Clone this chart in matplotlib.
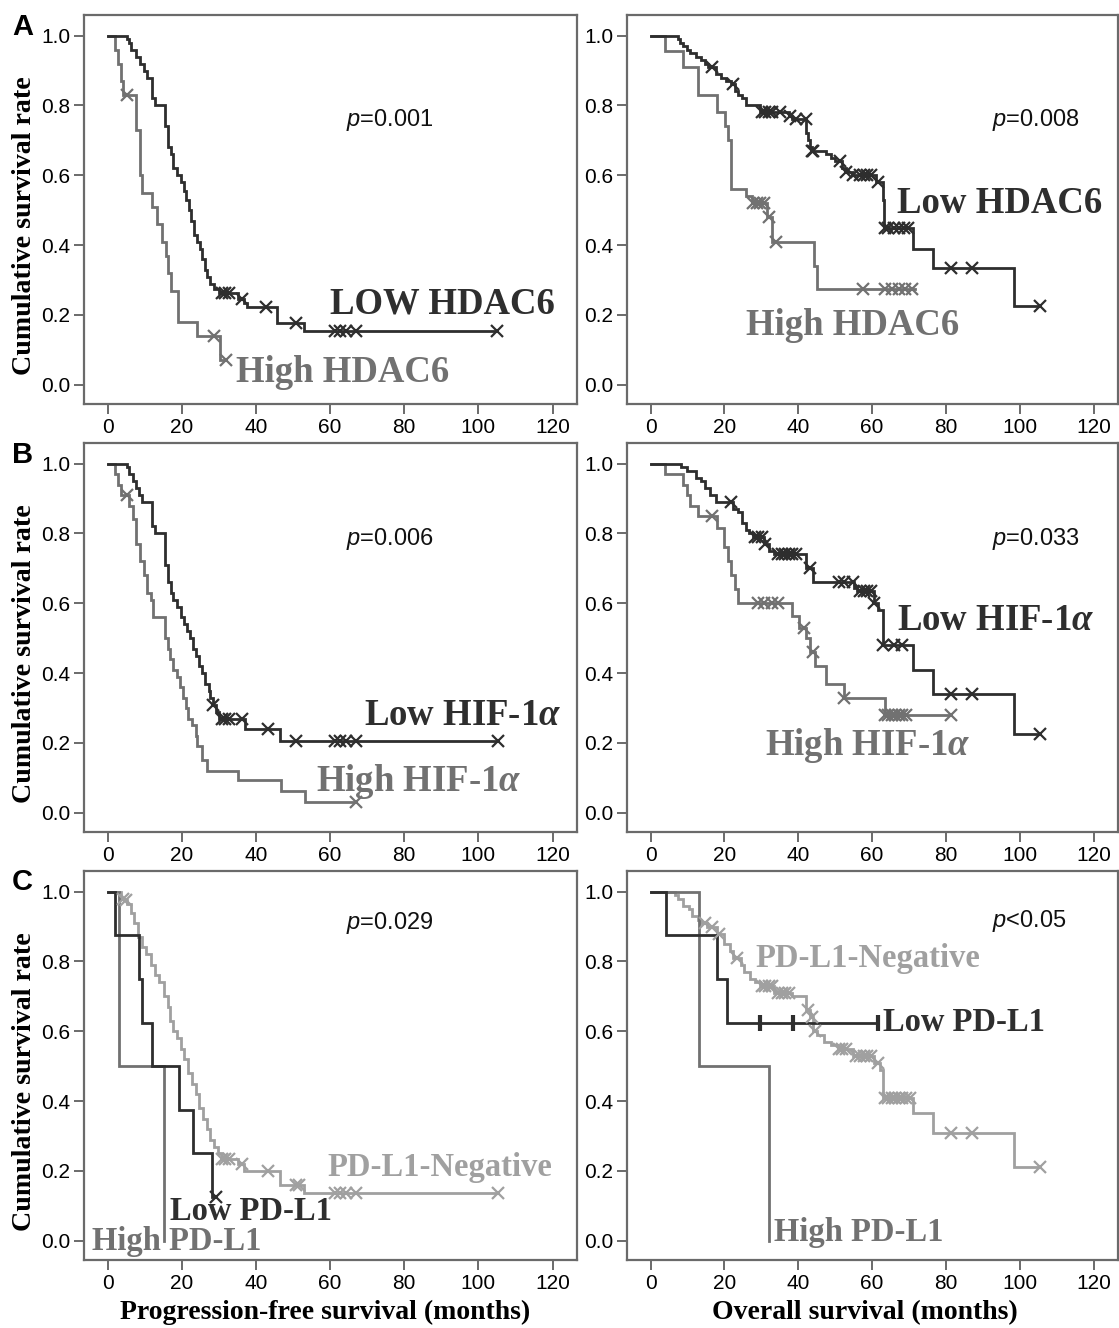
import numpy as np
import matplotlib
matplotlib.use("Agg")
import matplotlib.pyplot as plt

plt.rcParams["font.family"] = "Liberation Sans"
plt.rcParams["mathtext.fontset"] = "custom"
plt.rcParams["mathtext.it"] = "Liberation Sans:italic"
plt.rcParams["mathtext.rm"] = "Liberation Sans"
plt.rcParams["mathtext.bf"] = "Liberation Serif:italic:bold"

DARK = "#2e2e2e"
MID = "#717171"
LIGHT = "#a0a0a0"
FRAME = "#6a6a6a"

# ---- A: HDAC6, progression-free survival ----
A_PFS_LOW_T = [0, 5.2, 5.7, 6.4, 7.7, 8.7, 9.7, 10.7, 11.9, 12.7, 15.4, 16.2, 17.0, 17.7,
               18.7, 19.9, 20.5, 21.2, 21.9, 22.5, 23.4, 24.2, 25.0, 25.4, 26.2, 26.9,
               27.7, 28.7, 30.0, 35.2, 36.7, 37.7, 45.7, 53.0, 105.0]
A_PFS_LOW_S = [1.0, 0.99, 0.98, 0.96, 0.94, 0.92, 0.90, 0.88, 0.82, 0.80, 0.74, 0.68, 0.66,
               0.62, 0.60, 0.58, 0.555, 0.53, 0.50, 0.47, 0.43, 0.41, 0.39, 0.36, 0.33,
               0.31, 0.29, 0.275, 0.262, 0.245, 0.235, 0.222, 0.178, 0.153, 0.153]
A_PFS_LOW_C = [30.7, 31.7, 32.7, 36.2, 42.7, 50.7, 61.2, 62.7, 64.2, 66.9, 105.0]

A_PFS_HIGH_T = [0, 1.9, 2.7, 3.5, 4.2, 7.5, 8.7, 9.2, 11.9, 13.2, 14.7, 15.8, 16.2, 17.2,
                18.9, 24.2, 30.2, 31.9]
A_PFS_HIGH_S = [1.0, 0.96, 0.92, 0.87, 0.83, 0.73, 0.60, 0.55, 0.51, 0.46, 0.41, 0.37, 0.32,
                0.27, 0.18, 0.14, 0.07, 0.07]
A_PFS_HIGH_C = [5.2, 28.7, 31.9]

# ---- A: HDAC6, overall survival ----
A_OS_LOW_T = [0, 7.4, 7.9, 8.9, 9.8, 10.8, 12.3, 13.7, 14.7, 15.6, 17.6, 19.0, 20.5, 21.9,
              22.9, 23.8, 24.8, 25.8, 29.6, 37.4, 38.3, 42.2, 42.7, 43.1, 43.6, 47.5, 48.9,
              49.9, 51.8, 52.8, 54.7, 61.0, 62.9, 63.2, 71.1, 76.4, 98.5, 105.4]
A_OS_LOW_S = [1.0, 0.99, 0.98, 0.97, 0.96, 0.95, 0.94, 0.93, 0.92, 0.91, 0.89, 0.88, 0.87,
              0.86, 0.84, 0.83, 0.82, 0.80, 0.78, 0.77, 0.76, 0.72, 0.70, 0.68, 0.67, 0.66,
              0.65, 0.64, 0.62, 0.61, 0.60, 0.58, 0.53, 0.45, 0.39, 0.335, 0.225, 0.225]
A_OS_LOW_C = [16.6, 22.4, 30.1, 31.1, 32.0, 33.0, 35.0, 37.8, 39.3, 42.0, 43.6, 44.1, 51.4,
              52.8, 54.7, 56.7, 57.7, 58.6, 59.6, 61.5, 63.4, 64.4, 65.8, 67.2, 68.7, 69.7,
              81.3, 87.1, 105.4]

A_OS_HIGH_T = [0, 3.9, 8.9, 12.7, 18.0, 20.2, 21.0, 21.9, 25.8, 27.5, 31.4, 33.0, 44.3,
               45.0, 71.6]
A_OS_HIGH_S = [1.0, 0.955, 0.91, 0.83, 0.78, 0.74, 0.70, 0.56, 0.54, 0.52, 0.48, 0.41, 0.34,
               0.275, 0.275]
A_OS_HIGH_C = [27.7, 28.7, 29.6, 30.6, 32.0, 34.0, 57.6, 63.4, 65.3, 67.3, 69.0, 70.7]

# ---- B: HIF-1a, progression-free survival ----
B_PFS_LOW_T = [0, 5.2, 5.7, 6.7, 7.7, 8.5, 9.2, 11.9, 12.7, 15.4, 16.2, 17.2, 17.7, 18.7,
               19.7, 20.7, 21.5, 22.2, 23.0, 23.7, 24.7, 25.5, 26.2, 27.2, 27.7, 28.5,
               29.2, 30.0, 36.9, 46.4, 105.2]
B_PFS_LOW_S = [1.0, 0.99, 0.97, 0.95, 0.93, 0.91, 0.89, 0.82, 0.80, 0.71, 0.66, 0.63, 0.61,
               0.59, 0.56, 0.54, 0.52, 0.50, 0.47, 0.45, 0.42, 0.40, 0.37, 0.35, 0.33,
               0.31, 0.29, 0.27, 0.24, 0.205, 0.205]
B_PFS_LOW_C = [28.5, 30.7, 31.7, 32.7, 36.2, 43.2, 50.7, 61.2, 62.7, 64.2, 66.9, 105.2]

B_PFS_HIGH_T = [0, 2.0, 2.7, 3.7, 5.7, 6.7, 7.7, 8.7, 9.7, 10.7, 11.7, 12.2, 15.4, 16.2,
                16.9, 17.7, 18.7, 19.5, 20.2, 21.0, 21.7, 22.7, 23.7, 24.2, 25.5, 26.7,
                35.2, 46.7, 53.2, 66.9]
B_PFS_HIGH_S = [1.0, 0.97, 0.94, 0.91, 0.88, 0.84, 0.77, 0.72, 0.68, 0.63, 0.61, 0.56, 0.50,
                0.47, 0.44, 0.41, 0.39, 0.36, 0.33, 0.30, 0.27, 0.25, 0.22, 0.19, 0.15,
                0.12, 0.095, 0.063, 0.032, 0.032]
B_PFS_HIGH_C = [5.2, 66.9]

# ---- B: HIF-1a, overall survival ----
B_OS_LOW_T = [0, 8.2, 9.8, 12.3, 13.7, 14.7, 16.1, 17.6, 22.4, 23.8, 24.8, 25.8, 26.7, 27.7,
              30.6, 32.0, 33.5, 42.2, 44.1, 55.2, 56.0, 60.5, 61.5, 62.9, 71.1, 76.4, 98.5,
              105.4]
B_OS_LOW_S = [1.0, 0.99, 0.98, 0.96, 0.95, 0.93, 0.91, 0.89, 0.87, 0.86, 0.83, 0.81, 0.80,
              0.79, 0.77, 0.75, 0.74, 0.70, 0.66, 0.645, 0.635, 0.60, 0.58, 0.48, 0.41,
              0.34, 0.225, 0.225]
B_OS_LOW_C = [21.9, 28.2, 29.2, 30.1, 31.1, 34.5, 35.5, 36.5, 37.4, 38.3, 39.3, 43.1, 50.9,
              52.3, 54.7, 56.7, 57.7, 58.6, 59.6, 60.5, 62.9, 65.8, 68.2, 81.3, 87.1, 105.4]

B_OS_HIGH_T = [0, 3.9, 8.9, 9.8, 10.8, 12.7, 18.0, 20.0, 21.0, 21.9, 22.9, 23.8, 38.3, 40.3,
               42.2, 43.1, 44.6, 47.5, 52.3, 63.4, 81.3]
B_OS_HIGH_S = [1.0, 0.97, 0.94, 0.91, 0.88, 0.85, 0.815, 0.76, 0.72, 0.68, 0.64, 0.60, 0.565,
               0.53, 0.50, 0.46, 0.42, 0.37, 0.33, 0.28, 0.28]
B_OS_HIGH_C = [16.6, 29.2, 30.6, 33.0, 34.5, 41.5, 43.9, 52.3, 63.4, 64.4, 65.3, 66.3, 67.3,
               68.2, 69.2, 81.3]

# ---- C: PD-L1, progression-free survival ----
C_PFS_NEG_T = [0, 3.7, 4.5, 5.2, 6.2, 7.2, 8.2, 9.2, 10.2, 11.7, 12.7, 13.7, 15.2, 16.2, 16.7,
               17.7, 18.7, 19.7, 20.7, 21.7, 22.7, 23.7, 24.7, 25.7, 26.7, 27.7, 28.7, 29.7,
               30.7, 35.2, 36.7, 46.4, 53.0, 105.2]
C_PFS_NEG_S = [1.0, 0.98, 0.975, 0.965, 0.94, 0.91, 0.87, 0.84, 0.82, 0.79, 0.76, 0.74, 0.70,
               0.67, 0.63, 0.60, 0.58, 0.55, 0.52, 0.48, 0.45, 0.42, 0.38, 0.35, 0.32, 0.29,
               0.27, 0.25, 0.235, 0.22, 0.20, 0.16, 0.137, 0.137]
C_PFS_NEG_C = [4.0, 5.0, 30.7, 31.7, 32.7, 36.2, 43.2, 50.7, 51.7, 61.2, 62.7, 64.2, 66.9,
               105.2]

C_PFS_LOW_T = [0, 2.0, 8.5, 9.2, 11.9, 19.2, 22.9, 28.2, 29.2]
C_PFS_LOW_S = [1.0, 0.875, 0.75, 0.625, 0.50, 0.375, 0.25, 0.125, 0.125]
C_PFS_LOW_C = [29.2]

C_PFS_HIGH_T = [0, 3.0, 15.2]
C_PFS_HIGH_S = [1.0, 0.5, 0.0]

# ---- C: PD-L1, overall survival ----
C_OS_NEG_T = [0, 6.5, 7.4, 8.9, 10.3, 11.3, 12.8, 13.7, 15.2, 18.0, 20.0, 21.5, 22.4, 24.4,
              25.4, 26.8, 28.2, 29.6, 33.5, 38.3, 42.2, 43.1, 44.1, 45.0, 46.9, 48.9, 50.9,
              54.7, 60.5, 62.0, 62.9, 71.1, 76.4, 98.5, 105.4]
C_OS_NEG_S = [1.0, 0.99, 0.98, 0.96, 0.95, 0.93, 0.92, 0.91, 0.90, 0.88, 0.85, 0.83, 0.81,
              0.79, 0.77, 0.75, 0.74, 0.73, 0.71, 0.70, 0.66, 0.64, 0.60, 0.59, 0.57, 0.56,
              0.55, 0.53, 0.51, 0.49, 0.41, 0.365, 0.31, 0.21, 0.21]
C_OS_NEG_C = [14.7, 16.6, 18.5, 23.4, 30.1, 31.1, 32.0, 33.0, 34.5, 35.5, 36.5, 37.4, 42.7,
              43.6, 44.6, 50.9, 51.8, 52.8, 55.7, 56.7, 57.7, 58.6, 59.6, 61.5, 63.4, 64.4,
              65.3, 66.3, 67.3, 68.2, 69.2, 70.2, 81.3, 87.1, 105.4]

C_OS_LOW_T = [0, 4.2, 18.0, 20.8, 61.5]
C_OS_LOW_S = [1.0, 0.875, 0.75, 0.625, 0.625]
C_OS_LOW_C = [29.6, 38.5, 61.5]

C_OS_HIGH_T = [0, 13.2, 32.0]
C_OS_HIGH_S = [1.0, 0.5, 0.0]

X_TICKS = [0, 20, 40, 60, 80, 100, 120]
Y_TICKS = [0.0, 0.2, 0.4, 0.6, 0.8, 1.0]
P_VALUES = ["=0.001", "=0.008", "=0.006", "=0.033", "=0.029", "<0.05"]


def draw_curve(ax, t, s, censor=(), color=DARK, marker="x"):
    ax.step(t, s, where="post", color=color, lw=2.0, solid_joinstyle="miter", zorder=3)
    if len(censor):
        idx = np.searchsorted(t, censor, side="right") - 1
        yy = np.asarray(s)[idx]
        if marker == "|":
            ax.plot(censor, yy, "|", color=color, ms=12, mew=3.0, zorder=4)
        else:
            ax.plot(censor, yy, "x", color=color, ms=8, mew=1.6, zorder=4)


def label(ax, x, y, text, color, size):
    ax.text(x, y, text, color=color, fontsize=size, fontweight="bold",
            family="Liberation Serif", va="center", ha="left", zorder=5)


W, H = 1119, 1328
fig = plt.figure(figsize=(W / 100, H / 100), dpi=100)

col_left = [84 / W, 627 / W]
col_width = [493 / W, 491 / W]
row_bottom = [1 - 404 / H, 1 - 832 / H, 1 - 1260 / H]
height = 389 / H

axes = []
for r in range(3):
    row = []
    for c in range(2):
        ax = fig.add_axes([col_left[c], row_bottom[r], col_width[c], height])
        ax.set_xlim(-6.4, 126.6)
        ax.set_ylim(-0.055, 1.059)
        ax.set_xticks(X_TICKS)
        ax.set_yticks(Y_TICKS)
        ax.set_yticklabels([f"{v:.1f}" for v in Y_TICKS])
        ax.tick_params(direction="out", length=7, width=1.4, color=FRAME,
                       labelsize=15, pad=3)
        for sp in ax.spines.values():
            sp.set_color(FRAME)
            sp.set_linewidth(1.6)
        row.append(ax)
    axes.append(row)

BIG = 26.5
SMALL = 23.5

# Row A
ax = axes[0][0]
draw_curve(ax, A_PFS_HIGH_T, A_PFS_HIGH_S, A_PFS_HIGH_C, MID)
draw_curve(ax, A_PFS_LOW_T, A_PFS_LOW_S, A_PFS_LOW_C, DARK)
label(ax, 60.0, 0.23, "LOW HDAC6", DARK, BIG)
label(ax, 34.7, 0.035, "High HDAC6", MID, BIG)

ax = axes[0][1]
draw_curve(ax, A_OS_HIGH_T, A_OS_HIGH_S, A_OS_HIGH_C, MID)
draw_curve(ax, A_OS_LOW_T, A_OS_LOW_S, A_OS_LOW_C, DARK)
label(ax, 66.8, 0.52, "Low HDAC6", DARK, BIG)
label(ax, 25.8, 0.169, "High HDAC6", MID, BIG)

# Row B
ax = axes[1][0]
draw_curve(ax, B_PFS_HIGH_T, B_PFS_HIGH_S, B_PFS_HIGH_C, MID)
draw_curve(ax, B_PFS_LOW_T, B_PFS_LOW_S, B_PFS_LOW_C, DARK)
label(ax, 69.2, 0.279, r"Low HIF-1$\mathbf{\alpha}$", DARK, BIG)
label(ax, 56.2, 0.089, r"High HIF-1$\mathbf{\alpha}$", MID, BIG)

ax = axes[1][1]
draw_curve(ax, B_OS_HIGH_T, B_OS_HIGH_S, B_OS_HIGH_C, MID)
draw_curve(ax, B_OS_LOW_T, B_OS_LOW_S, B_OS_LOW_C, DARK)
label(ax, 66.8, 0.55, r"Low HIF-1$\mathbf{\alpha}$", DARK, BIG)
label(ax, 31.1, 0.193, r"High HIF-1$\mathbf{\alpha}$", MID, BIG)

# Row C
ax = axes[2][0]
draw_curve(ax, C_PFS_NEG_T, C_PFS_NEG_S, C_PFS_NEG_C, LIGHT)
draw_curve(ax, C_PFS_HIGH_T, C_PFS_HIGH_S, (), MID)
draw_curve(ax, C_PFS_LOW_T, C_PFS_LOW_S, C_PFS_LOW_C, DARK)
label(ax, 59.2, 0.211, "PD-L1-Negative", LIGHT, SMALL)
label(ax, 16.7, 0.083, "Low PD-L1", DARK, SMALL)
label(ax, -4.3, -0.003, "High PD-L1", MID, SMALL)

ax = axes[2][1]
draw_curve(ax, C_OS_NEG_T, C_OS_NEG_S, C_OS_NEG_C, LIGHT)
draw_curve(ax, C_OS_HIGH_T, C_OS_HIGH_S, (), MID)
draw_curve(ax, C_OS_LOW_T, C_OS_LOW_S, C_OS_LOW_C, DARK, marker="|")
label(ax, 28.5, 0.807, "PD-L1-Negative", LIGHT, SMALL)
label(ax, 62.9, 0.624, "Low PD-L1", DARK, SMALL)
label(ax, 33.5, 0.023, "High PD-L1", MID, SMALL)

# p-values
p_pos = [(64.2, 0.759), (92.4, 0.759), (64.2, 0.784), (92.4, 0.784), (64.2, 0.911), (92.4, 0.916)]
for i, (ax, (px, py)) in enumerate(zip([a for row in axes for a in row], p_pos)):
    ax.text(px, py, r"$p$" + P_VALUES[i], fontsize=17, va="center", ha="left", color="#111111")

# y labels and panel letters
for r, letter in enumerate("ABC"):
    ax = axes[r][0]
    ax.text(-0.12, 0.455, "Cumulative survival rate", rotation=90, ha="center", va="center",
            transform=ax.get_yaxis_transform(), family="Liberation Serif",
            fontweight="bold", fontsize=20.2)
    top_px = [13, 441, 868][r]
    fig.text(12 / W, 1 - top_px / H, letter, fontsize=21, fontweight="bold",
             ha="left", va="top")

axes[2][0].text(58.7, -0.135, "Progression-free survival (months)", ha="center", va="center",
                transform=axes[2][0].get_xaxis_transform(), family="Liberation Serif",
                fontweight="bold", fontsize=20)
axes[2][1].text(58.1, -0.135, "Overall survival (months)", ha="center", va="center",
                transform=axes[2][1].get_xaxis_transform(), family="Liberation Serif",
                fontweight="bold", fontsize=20)

fig.savefig("out.png", dpi=100)
